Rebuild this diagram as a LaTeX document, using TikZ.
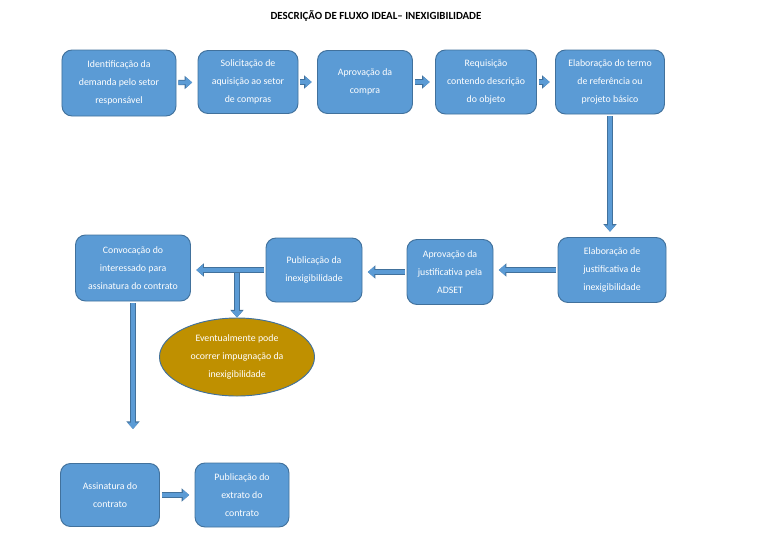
\documentclass[tikz,border=0pt]{standalone}
\usepackage{fontspec}
\setmainfont{Carlito}
\usetikzlibrary{arrows.meta,shapes.geometric}
\definecolor{boxblue}{HTML}{5B9BD5}
\definecolor{boxedge}{HTML}{41719C}
\definecolor{impgold}{HTML}{BF9000}
\tikzset{
  etapa/.style={draw=boxedge, line width=0.8pt, fill=boxblue, rounded corners=0.3cm,
    text=white, align=center, font=\fontsize{8.4}{15.3}\selectfont, inner sep=2pt},
  seta/.style={line width=3.4pt, draw=boxblue, shorten <=0.06cm, shorten >=0.16cm,
    -{Triangle[length=5.5pt,width=9pt]},
    preaction={draw=boxedge, line width=4.6pt, -{Triangle[length=6.5pt,width=11pt]}}}
}
\begin{document}
\begin{tikzpicture}[x=0.03cm,y=-0.03cm]
  \useasboundingbox (0,0) rectangle (760,547);
  \node[font=\bfseries\fontsize{9.3}{11}\selectfont] (titulo) at (376,16) {DESCRIÇÃO DE FLUXO IDEAL– INEXIGIBILIDADE};

  % primeira linha
  \node[etapa, minimum width=3.42cm, minimum height=1.98cm] (ident) at (119,83) {Identificação da\\demanda pelo setor\\responsável};
  \node[etapa, minimum width=3.0cm, minimum height=1.89cm] (solic) at (248,82) {Solicitação de\\aquisição ao setor\\de compras};
  \node[etapa, minimum width=2.85cm, minimum height=1.89cm] (aprcompra) at (365,82) {Aprovação da\\compra};
  \node[etapa, minimum width=3.03cm, minimum height=1.92cm] (requis) at (486,82) {Requisição\\contendo descrição\\do objeto};
  \node[etapa, minimum width=3.27cm, minimum height=1.92cm] (termo) at (610,82) {Elaboração do termo\\de referência ou\\projeto básico};

  % segunda linha
  \node[etapa, minimum width=3.24cm, minimum height=1.95cm] (justif) at (612,270) {Elaboração de\\justificativa de\\inexigibilidade};
  \node[etapa, minimum width=2.58cm, minimum height=1.95cm] (adset) at (450,272) {Aprovação da\\justificativa pela\\ADSET};
  \node[etapa, minimum width=2.88cm, minimum height=1.92cm] (public) at (314,270) {Publicação da\\inexigibilidade};
  \node[etapa, minimum width=3.45cm, minimum height=1.98cm] (convoc) at (133,268) {Convocação do\\interessado para\\assinatura do contrato};
  \node[ellipse, draw=boxedge, line width=0.8pt, fill=impgold, text=white, align=center,
    font=\fontsize{8.4}{15.3}\selectfont, minimum width=4.65cm, minimum height=2.34cm, inner sep=0pt] (impug) at (237,357) {Eventualmente pode\\ocorrer impugnação da\\inexigibilidade};

  % terceira linha
  \node[etapa, minimum width=2.97cm, minimum height=1.89cm] (assin) at (110,495) {Assinatura do\\contrato};
  \node[etapa, minimum width=2.82cm, minimum height=1.92cm] (extrato) at (242,495) {Publicação do\\extrato do\\contrato};

  \coordinate (fork) at (impug.north |- convoc.east);
  \coordinate (desce) at (133,429);

  \draw[seta] (ident) -- (solic);
  \draw[seta] (solic) -- (aprcompra);
  \draw[seta] (aprcompra) -- (requis);
  \draw[seta] (requis) -- (termo);
  \draw[seta] (termo.south) -- (termo.south |- justif.north);
  \draw[seta] (justif.west) -- (justif.west -| adset.east);
  \draw[seta] (adset.west) -- (adset.west -| public.east);
  \draw[seta, shorten <=0.1cm, shorten >=0pt] (fork) -- (impug.north);
  \draw[seta] (public.west) -- (public.west -| convoc.east);
  \draw[seta, shorten >=0pt] (convoc.south) -- (desce);
  \draw[seta] (assin) -- (extrato);
\end{tikzpicture}
\end{document}
